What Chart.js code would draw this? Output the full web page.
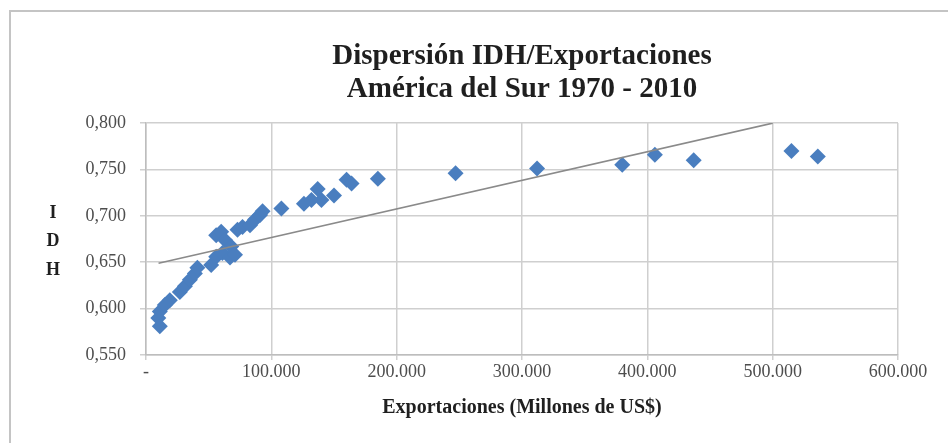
<!DOCTYPE html>
<html lang="es">
<head>
    <meta charset="UTF-8">
    <title>Dispersión IDH/Exportaciones</title>
    <script src="https://cdn.jsdelivr.net/npm/chart.js"></script>
    <style>
        html, body {
            margin: 0;
            padding: 0;
            background-color: #ffffff;
        }
        .frame {
            position: absolute;
            left: 9px;
            top: 10px;
            width: 960px;
            height: 460px;
            border-left: 2px solid #c4c4c4;
            border-top: 2px solid #c4c4c4;
        }
        .chart-box {
            position: relative;
            width: 948px;
            height: 443px;
        }
    </style>
</head>
<body>
<div class="frame"></div>
<div class="chart-box">
    <canvas id="idhChart"></canvas>
</div>

<script>
    // Exportaciones (millones de US$) e IDH
    const exportaciones = [9800, 11000, 11000, 15000, 19000, 27000, 31000, 35000, 39000, 41000,
        52000, 56000, 56000, 60000, 61000, 63000, 67000, 68000, 71000, 73000,
        77000, 83000, 87000, 91000, 93000, 108000, 126000, 132000, 137000, 140000,
        150000, 160000, 164000, 185000, 247000, 312000, 380000, 406000, 437000, 515000,
        536000];
    const idh = [0.590, 0.581, 0.597, 0.604, 0.609, 0.618, 0.624, 0.631, 0.638, 0.644,
        0.647, 0.656, 0.679, 0.683, 0.660, 0.674, 0.655, 0.667, 0.658, 0.685,
        0.688, 0.690, 0.696, 0.701, 0.705, 0.708, 0.713, 0.717, 0.729, 0.717,
        0.722, 0.739, 0.735, 0.740, 0.746, 0.751, 0.755, 0.766, 0.760, 0.770,
        0.764];

    // linea de tendencia (extremos)
    const trendX = [10000, 500000];
    const trendY = [0.649, 0.800];

    const titleLines = ['Dispersión IDH/Exportaciones', 'América del Sur 1970 - 2010'];
    const xTitle = 'Exportaciones (Millones de US$)';
    const yTitleLetters = ['I', 'D', 'H'];

    const serif = '"Liberation Serif", "Times New Roman", serif';

    const points = exportaciones.map((x, i) => ({x: x, y: idh[i]}));
    const trend = trendX.map((x, i) => ({x: x, y: trendY[i]}));

    function miles(v) {
        if (v === 0) return '-';
        return String(v).replace(/\B(?=(\d{3})+(?!\d))/g, '.');
    }

    // letras del eje Y apiladas
    const stackedYTitle = {
        id: 'stackedYTitle',
        afterDraw(chart) {
            const ctx = chart.ctx;
            ctx.save();
            ctx.font = 'bold 18px ' + serif;
            ctx.fillStyle = '#1f1f1f';
            ctx.textAlign = 'center';
            ctx.textBaseline = 'middle';
            yTitleLetters.forEach((ch, i) => {
                ctx.fillText(ch, 53, 213 + i * 28.5);
            });
            ctx.restore();
        }
    };

    new Chart(document.getElementById('idhChart'), {
        type: 'scatter',
        data: {
            datasets: [{
                type: 'line',
                data: trend,
                borderColor: '#8a8a8a',
                borderWidth: 1.6,
                pointRadius: 0,
                fill: false,
                order: 0
            }, {
                data: points,
                pointStyle: 'rectRot',
                pointRadius: 8,
                backgroundColor: '#4a7ebf',
                borderColor: '#4a7ebf',
                borderWidth: 0,
                order: 1
            }]
        },
        options: {
            responsive: true,
            maintainAspectRatio: false,
            animation: false,
            layout: {
                padding: {left: 0, right: 50, top: 0, bottom: 0}
            },
            plugins: {
                legend: {display: false},
                tooltip: {enabled: false},
                title: {
                    display: true,
                    text: titleLines,
                    fullSize: false,
                    color: '#1f1f1f',
                    font: {family: serif, size: 29, weight: 'bold', lineHeight: 1.14},
                    padding: {top: 40, bottom: 17}
                }
            },
            scales: {
                x: {
                    type: 'linear',
                    min: 0,
                    max: 600000,
                    afterFit: (scale) => { scale.height = 88; },
                    ticks: {
                        stepSize: 100000,
                        callback: (v) => miles(v),
                        color: '#4d4d4d',
                        font: {family: serif, size: 18},
                        padding: 1,
                        maxRotation: 0
                    },
                    grid: {
                        color: '#cfcfcf',
                        lineWidth: 1.5,
                        tickLength: 5
                    },
                    border: {color: '#bdbdbd', width: 1.5},
                    title: {
                        display: true,
                        text: xTitle,
                        color: '#1f1f1f',
                        font: {family: serif, size: 20, weight: 'bold'},
                        padding: {top: 0, bottom: 23}
                    }
                },
                y: {
                    min: 0.55,
                    max: 0.8,
                    afterFit: (scale) => { scale.width = 146; },
                    ticks: {
                        stepSize: 0.05,
                        callback: (v) => v.toFixed(3).replace('.', ','),
                        color: '#4d4d4d',
                        font: {family: serif, size: 18},
                        padding: 14
                    },
                    grid: {
                        color: '#cfcfcf',
                        lineWidth: 1.5,
                        tickLength: 6
                    },
                    border: {color: '#bdbdbd', width: 1.5}
                }
            }
        },
        plugins: [stackedYTitle]
    });
</script>
</body>
</html>
